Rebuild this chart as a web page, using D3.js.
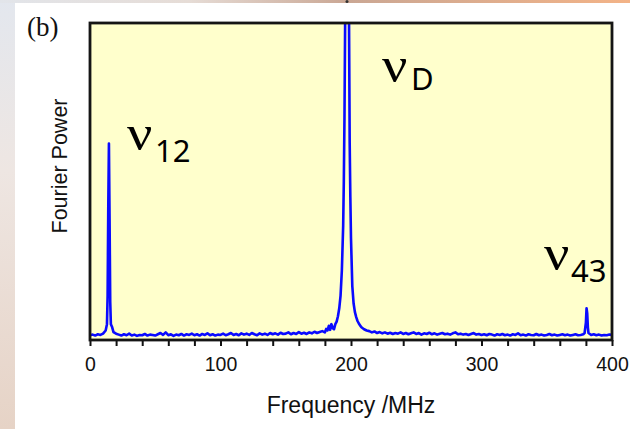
<!DOCTYPE html>
<html><head><meta charset="utf-8">
<script src="https://cdn.jsdelivr.net/npm/d3@7"></script>
<style>html,body{margin:0;padding:0;background:#fff;overflow:hidden}</style>
</head><body>
<svg id="c" width="630" height="429"></svg>
<script>
// ---- data ----
const freqMHz = [0,2,4,6,8,10,12,13,13.5,14,14.5,15,15.5,16,17,18,20,22,24,26,28,30,32,34,36,38,40,42,44,46,48,50,52,54,56,58,60,62,64,66,68,70,72,74,76,78,80,82,84,86,88,90,92,94,96,98,100,102,104,106,108,110,112,114,116,118,120,122,124,126,128,130,132,134,136,138,140,142,144,146,148,150,152,154,156,158,160,162,164,166,168,170,172,174,176,178,180,181,182,183,184,185,186,187,188,189,190,191,192,193,194,194.5,195,195.5,196,197,198,198.5,199,199.5,200,201,202,203,204,205,206,207,208,209,210,212,214,216,218,220,222,224,226,228,230,232,234,236,238,240,242,244,246,248,250,252,254,256,258,260,262,264,266,268,270,272,274,276,278,280,282,284,286,288,290,292,294,296,298,300,302,304,306,308,310,312,314,316,318,320,322,324,326,328,330,332,334,336,338,340,342,344,346,348,350,352,354,356,358,360,362,364,366,368,370,372,374,376,378,379,380,380.5,381,381.5,382,384,386,388,390,392,394,396,398,400];
const power = [0.015,0.017,0.014,0.018,0.016,0.02,0.03,0.05,0.14,0.42,0.62,0.38,0.12,0.05,0.04,0.025,0.02,0.017,0.014,0.018,0.015,0.02,0.014,0.017,0.013,0.016,0.015,0.019,0.014,0.017,0.016,0.014,0.018,0.022,0.016,0.024,0.015,0.018,0.013,0.017,0.015,0.019,0.014,0.018,0.016,0.02,0.015,0.018,0.014,0.019,0.016,0.021,0.015,0.018,0.014,0.017,0.016,0.02,0.015,0.018,0.022,0.016,0.019,0.015,0.021,0.017,0.02,0.016,0.022,0.018,0.015,0.021,0.017,0.02,0.016,0.022,0.018,0.021,0.017,0.023,0.019,0.02,0.024,0.018,0.022,0.019,0.025,0.02,0.023,0.019,0.024,0.021,0.026,0.022,0.025,0.028,0.024,0.035,0.03,0.045,0.032,0.05,0.038,0.034,0.05,0.058,0.075,0.1,0.14,0.22,0.36,0.5,0.7,1.0,1.3,1.6,1.3,1.0,0.62,0.45,0.32,0.17,0.115,0.088,0.072,0.06,0.052,0.046,0.04,0.037,0.034,0.03,0.028,0.024,0.027,0.022,0.025,0.021,0.024,0.02,0.023,0.019,0.022,0.02,0.024,0.019,0.022,0.018,0.021,0.024,0.019,0.022,0.017,0.021,0.019,0.023,0.018,0.021,0.017,0.02,0.022,0.018,0.02,0.017,0.021,0.024,0.018,0.02,0.017,0.019,0.016,0.019,0.022,0.017,0.019,0.016,0.018,0.015,0.019,0.017,0.014,0.018,0.016,0.019,0.015,0.017,0.014,0.018,0.016,0.021,0.015,0.017,0.014,0.018,0.016,0.015,0.019,0.015,0.017,0.014,0.016,0.019,0.015,0.017,0.014,0.016,0.018,0.015,0.017,0.014,0.016,0.018,0.015,0.016,0.018,0.022,0.055,0.1,0.085,0.04,0.022,0.016,0.018,0.015,0.017,0.014,0.016,0.015,0.017,0.016];
const xDomain = [0, 400];
const yDomain = [0, 1];
const xMajorTicks = [0, 100, 200, 300, 400];
const xMinorStep = 20;
const peakNames = ["12", "D", "43"];
const nuSymbol = "\u03BD";
const xTitle = "Frequency /MHz";
const yTitle = "Fourier Power";
const panelTag = "(b)";

// ---- drawing ----
const svg = d3.select("#c");
const defs = svg.append("defs");
const gl = defs.append("linearGradient").attr("id","gl").attr("x1",0).attr("y1",0).attr("x2",0).attr("y2",1);
gl.append("stop").attr("offset","0%").attr("stop-color","#e3e7ee");
gl.append("stop").attr("offset","40%").attr("stop-color","#eee6e2");
gl.append("stop").attr("offset","100%").attr("stop-color","#e6d3c6");
const gt = defs.append("linearGradient").attr("id","gt").attr("x1",0).attr("y1",0).attr("x2",1).attr("y2",0);
gt.append("stop").attr("offset","0%").attr("stop-color","#e2e5ea");
gt.append("stop").attr("offset","30%").attr("stop-color","#e6dcd6");
gt.append("stop").attr("offset","55%").attr("stop-color","#caa794");
gt.append("stop").attr("offset","100%").attr("stop-color","#f3b387");

svg.append("rect").attr("x",0).attr("y",0).attr("width",630).attr("height",429).attr("fill","#fff");
svg.append("rect").attr("x",0).attr("y",0).attr("width",15).attr("height",429).attr("fill","url(#gl)");
svg.append("rect").attr("x",0).attr("y",0).attr("width",630).attr("height",3).attr("fill","url(#gt)");
svg.append("ellipse").attr("cx",347).attr("cy",1.5).attr("rx",1.5).attr("ry",1.5).attr("fill","#333");

const L = 90, R = 612, T = 23, B = 340;
const x = d3.scaleLinear().domain(xDomain).range([L, R]);
const y = d3.scaleLinear().domain(yDomain).range([B, T]);

svg.append("rect").attr("x",L).attr("y",T).attr("width",R-L).attr("height",B-T).attr("fill","#ffffcc");

defs.append("clipPath").attr("id","clip").append("rect").attr("x",L).attr("y",T).attr("width",R-L).attr("height",B-T);

const pts = freqMHz.map((f,i)=>[f, power[i]]);
svg.append("path").datum(pts)
  .attr("clip-path","url(#clip)")
  .attr("fill","none").attr("stroke","#0a0aff").attr("stroke-width",2.6).attr("stroke-linejoin","round")
  .attr("d", d3.line().x(d=>x(d[0])).y(d=>y(d[1])));

// x axis
const minor = d3.range(xDomain[0], xDomain[1]+1, xMinorStep);
const ax = svg.append("g").attr("transform",`translate(0,${B})`)
  .call(d3.axisBottom(x).tickValues(minor).tickSize(6).tickPadding(11)
    .tickFormat(d => xMajorTicks.includes(d) ? String(d) : ""));
ax.select(".domain").remove();
ax.selectAll(".tick line").attr("stroke","#111").attr("stroke-width",2);
ax.selectAll(".tick text").attr("font-family","'Liberation Sans', Arial, sans-serif").attr("font-size",19.5).attr("fill","#111");

// frame
svg.append("rect").attr("x",L).attr("y",T).attr("width",R-L).attr("height",B-T)
  .attr("fill","none").attr("stroke","#151515").attr("stroke-width",2.8);

// titles
svg.append("text").attr("x",351).attr("y",413).attr("text-anchor","middle")
  .attr("font-family","'Liberation Sans', Arial, sans-serif").attr("font-size",23).attr("fill","#111").text(xTitle);
svg.append("text").attr("transform",`translate(67,166) rotate(-90)`).attr("text-anchor","middle")
  .attr("font-family","'Liberation Sans', Arial, sans-serif").attr("font-size",21.5).attr("fill","#111").text(yTitle);
svg.append("text").attr("x",27).attr("y",36)
  .attr("font-family","'Liberation Serif', 'Times New Roman', serif").attr("font-size",27).attr("fill","#111").text(panelTag);

// peak labels: [nu x, nu baseline, sub x, sub baseline]
const labelPos = [[127,150,155,162],[382,82,411,90],[544,270,571,282]];
peakNames.forEach((s,i)=>{
  const p = labelPos[i];
  svg.append("text").attr("transform",`translate(${p[0]},${p[1]}) scale(1.1,1)`)
    .attr("font-family","'Liberation Serif', serif").attr("font-size",51).attr("fill","#000").text(nuSymbol);
  svg.append("text").attr("x",p[2]).attr("y",p[3])
    .attr("font-family","'Noto Sans', sans-serif").attr("font-size",31).attr("fill","#000").text(s);
});
</script>
</body></html>
